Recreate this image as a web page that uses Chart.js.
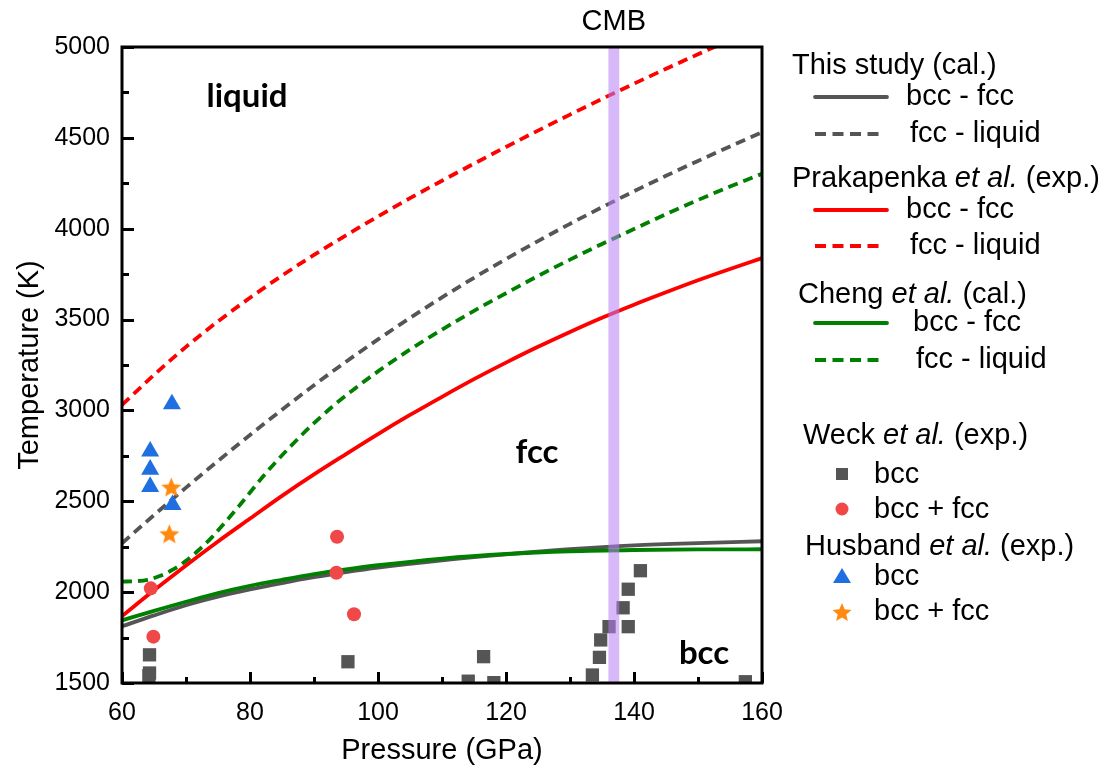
<!DOCTYPE html>
<html><head><meta charset="utf-8">
<script src="https://cdn.jsdelivr.net/npm/chart.js@4.4.0/dist/chart.umd.min.js"></script>
<style>html,body{margin:0;padding:0;background:#fff;}#wrap{width:1118px;height:774px;position:relative;}</style>
</head><body><div id="wrap"><canvas id="c" width="1118" height="774"></canvas></div>
<script>
// ---------- DATA ----------
const xTickValues = [60, 80, 100, 120, 140, 160];
const yTickValues = [1500, 2000, 2500, 3000, 3500, 4000, 4500, 5000];

// This study (cal.)
const thisBccFccP = [60, 65, 70, 75, 80, 85, 90, 95, 100, 110, 120, 130, 140, 150, 160];
const thisBccFccT = [1812, 1872, 1928, 1975, 2015, 2050, 2082, 2110, 2135, 2175, 2208, 2236, 2257, 2270, 2280];
const thisFccLiqP = [60, 65, 70, 75, 80, 85, 90, 95, 100, 105, 110, 115, 120, 125, 130, 135, 140, 145, 150, 155, 160];
const thisFccLiqT = [2269, 2424, 2575, 2722, 2865, 3004, 3139, 3268, 3391, 3509, 3622, 3730, 3833, 3932, 4027, 4118, 4206, 4291, 4373, 4453, 4531];

// Prakapenka et al. (exp.)
const prakBccFccP = [60, 65, 70, 75, 80, 85, 90, 95, 100, 105, 110, 115, 120, 125, 130, 135, 140, 145, 150, 155, 160];
const prakBccFccT = [1868, 2010, 2147, 2279, 2405, 2530, 2648, 2760, 2870, 2975, 3075, 3172, 3263, 3350, 3432, 3510, 3582, 3650, 3716, 3778, 3838];
const prakFccLiqP = [60, 65, 70, 75, 80, 85, 90, 95, 100, 105, 110, 115, 120, 125, 130, 135, 140, 145, 150, 155, 160];
const prakFccLiqT = [3030, 3195, 3350, 3490, 3620, 3742, 3856, 3964, 4068, 4168, 4264, 4358, 4450, 4540, 4628, 4714, 4798, 4880, 4960, 5038, 5115];

// Cheng et al. (cal.)
const chengBccFccP = [60, 65, 70, 75, 80, 85, 90, 95, 100, 110, 120, 130, 140, 150, 160];
const chengBccFccT = [1845, 1897, 1947, 1995, 2035, 2068, 2099, 2125, 2148, 2185, 2210, 2225, 2232, 2235, 2236];
const chengFccLiqP = [60, 62, 64, 66, 68, 70, 72, 74, 76, 78, 80, 82, 84, 86, 88, 90, 93, 96, 100, 105, 110, 115, 120, 125, 130, 135, 140, 145, 150, 155, 160];
const chengFccLiqT = [2058, 2060, 2068, 2090, 2125, 2172, 2232, 2300, 2380, 2462, 2548, 2635, 2715, 2790, 2862, 2930, 3025, 3110, 3215, 3335, 3445, 3548, 3645, 3740, 3830, 3916, 3998, 4080, 4158, 4232, 4302];

// Weck et al. (exp.)
const weckBccP = [64.3, 64.3, 64.2, 95.3, 114.1, 116.5, 118.1, 133.5, 134.6, 134.8, 136.1, 138.3, 139.1, 139.1, 141.0, 157.4];
const weckBccT = [1655, 1555, 1540, 1617, 1510, 1645, 1502, 1544, 1641, 1737, 1810, 1914, 1810, 2016, 2118, 1507];
const weckMixP = [64.5, 64.9, 93.6, 93.5, 96.25];
const weckMixT = [2021, 1755, 2305, 2107, 1878];

// Husband et al. (exp.)
const husbBccP = [67.8, 64.4, 64.4, 64.4, 67.9];
const husbBccT = [3035, 2775, 2675, 2580, 2480];
const husbMixP = [67.7, 67.4];
const husbMixT = [2577, 2320];

// Core-mantle boundary pressure range (GPa)
const cmbRange = [136.0, 137.7];

// ---------- STYLE ----------
const FONT = "'Liberation Sans', Arial, sans-serif";
const GREY = '#555555', RED = '#ff0000', GREEN = '#008000';
const MRED = '#f04848', BLUE = '#1f6fe0', ORANGE = '#ff8a10';

function pts(P, T) { return P.map((p, i) => ({ x: p, y: T[i] })); }

function starPath(g, cx, cy, r) {
  g.beginPath();
  for (let i = 0; i < 10; i++) {
    const rr = i % 2 === 0 ? r : r * 0.45;
    const a = -Math.PI / 2 + i * Math.PI / 5;
    g.lineTo(cx + rr * Math.cos(a), cy + rr * Math.sin(a));
  }
  g.closePath();
}
function makeStar(r, color) {
  const c = document.createElement('canvas');
  const s = Math.ceil(r * 2 + 2);
  c.width = s; c.height = s;
  const g = c.getContext('2d');
  g.fillStyle = color;
  starPath(g, s / 2, s / 2 + 0.8, r);
  g.fill();
  return c;
}

function lineDs(label, P, T, color, dashed) {
  return {
    label, data: pts(P, T), showLine: true, borderColor: color, backgroundColor: color,
    borderWidth: 3.8, borderDash: dashed ? [10, 6] : [], pointRadius: 0, pointHoverRadius: 0,
    cubicInterpolationMode: 'monotone', fill: false, clip: 0
  };
}
function markDs(label, P, T, color, style, radius) {
  return {
    label, data: pts(P, T), showLine: false, backgroundColor: color, borderColor: color,
    borderWidth: 0, pointStyle: style, pointRadius: radius, pointHoverRadius: radius, clip: 0
  };
}

const datasets = [
  markDs('Husband bcc + fcc', husbMixP, husbMixT, ORANGE, makeStar(10.5, ORANGE), 10),
  markDs('Husband bcc', husbBccP, husbBccT, BLUE, 'triangle', 10.4),
  markDs('Weck bcc + fcc', weckMixP, weckMixT, MRED, 'circle', 7),
  markDs('Weck bcc', weckBccP, weckBccT, GREY, 'rect', 9.4),
  lineDs('Cheng bcc-fcc', chengBccFccP, chengBccFccT, GREEN, false),
  lineDs('This bcc-fcc', thisBccFccP, thisBccFccT, GREY, false),
  lineDs('Prakapenka bcc-fcc', prakBccFccP, prakBccFccT, RED, false),
  lineDs('Cheng fcc-liquid', chengFccLiqP, chengFccLiqT, GREEN, true),
  lineDs('This fcc-liquid', thisFccLiqP, thisFccLiqT, GREY, true),
  lineDs('Prakapenka fcc-liquid', prakFccLiqP, prakFccLiqT, RED, true)
];

function rich(ctx, parts, x, y, size) {
  let cx = x;
  for (const p of parts) {
    ctx.font = (p.i ? 'italic ' : '') + size + 'px ' + FONT;
    ctx.fillText(p.t, cx, y);
    cx += ctx.measureText(p.t).width;
  }
}

const decor = {
  id: 'decor',
  afterDatasetsDraw(chart) {
    const { ctx, chartArea: a, scales: { x, y } } = chart;
    ctx.save();
    // CMB band
    const x0 = x.getPixelForValue(cmbRange[0]), x1 = x.getPixelForValue(cmbRange[1]);
    ctx.fillStyle = 'rgba(182,128,246,0.55)';
    ctx.fillRect(x0, a.top, x1 - x0, a.bottom - a.top);
    // inward ticks
    ctx.strokeStyle = '#000';
    ctx.lineWidth = 3;
    ctx.beginPath();
    for (let v = x.min; v <= x.max; v += 10) {
      const px = Math.round(x.getPixelForValue(v)) + 0.5;
      const len = (v % 20 === 0) ? 11 : 6;
      ctx.moveTo(px, a.bottom); ctx.lineTo(px, a.bottom - len);
    }
    for (let v = y.min; v <= y.max; v += 250) {
      const py = Math.round(y.getPixelForValue(v)) + 0.5;
      const len = (v % 500 === 0) ? 12 : 7;
      ctx.moveTo(a.left, py); ctx.lineTo(a.left + len, py);
    }
    ctx.stroke();
    // frame
    ctx.lineWidth = 3;
    ctx.strokeRect(a.left, a.top, a.right - a.left, a.bottom - a.top);
    ctx.restore();
  },
  afterDraw(chart) {
    const { ctx, scales: { x, y } } = chart;
    ctx.save();
    ctx.fillStyle = '#000';
    ctx.textBaseline = 'middle';
    // CMB label
    ctx.textAlign = 'center';
    ctx.font = '29px ' + FONT;
    ctx.fillText('CMB', x.getPixelForValue((cmbRange[0] + cmbRange[1]) / 2), 22);
    // region labels
    ctx.font = "bold 33px Lato, 'Liberation Sans', sans-serif";
    ctx.fillText('liquid', 247, 96);
    ctx.fillText('fcc', 537, 452);
    ctx.fillText('bcc', 704, 653);
    // legend
    ctx.textAlign = 'left';
    const S = 29;
    rich(ctx, [{ t: 'This study (cal.)' }], 792, 66, S);
    rich(ctx, [{ t: 'Prakapenka ' }, { t: 'et al.', i: true }, { t: ' (exp.)' }], 792, 179, S);
    rich(ctx, [{ t: 'Cheng ' }, { t: 'et al.', i: true }, { t: ' (cal.)' }], 798, 295, S);
    rich(ctx, [{ t: 'Weck ' }, { t: 'et al.', i: true }, { t: ' (exp.)' }], 803, 436, S);
    rich(ctx, [{ t: 'Husband ' }, { t: 'et al.', i: true }, { t: ' (exp.)' }], 805, 547, S);
    const samples = [
      [97, GREY, false, 'bcc - fcc', 906], [134, GREY, true, 'fcc - liquid', 910],
      [210, RED, false, 'bcc - fcc', 906], [246, RED, true, 'fcc - liquid', 910],
      [323, GREEN, false, 'bcc - fcc', 913], [360, GREEN, true, 'fcc - liquid', 916]
    ];
    for (const [yy, col, dashed, txt, tx] of samples) {
      ctx.save();
      ctx.strokeStyle = col; ctx.lineWidth = 3.8;
      ctx.setLineDash(dashed ? [11, 6.5] : []);
      ctx.lineCap = dashed ? 'butt' : 'round';
      ctx.beginPath(); ctx.moveTo(815, yy); ctx.lineTo(dashed ? 881 : 887, yy); ctx.stroke();
      ctx.restore();
      ctx.fillStyle = '#000';
      rich(ctx, [{ t: txt }], tx, yy, S);
    }
    // marker samples
    ctx.fillStyle = GREY; ctx.fillRect(836, 468, 12, 12);
    ctx.fillStyle = MRED; ctx.beginPath(); ctx.arc(842, 509, 6.5, 0, Math.PI * 2); ctx.fill();
    ctx.fillStyle = BLUE; ctx.beginPath(); ctx.moveTo(842, 568); ctx.lineTo(851, 583); ctx.lineTo(833, 583); ctx.closePath(); ctx.fill();
    ctx.fillStyle = ORANGE; starPath(ctx, 842, 613, 10); ctx.fill();
    ctx.fillStyle = '#000';
    rich(ctx, [{ t: 'bcc' }], 874, 475, S);
    rich(ctx, [{ t: 'bcc + fcc' }], 874, 510, S);
    rich(ctx, [{ t: 'bcc' }], 874, 577, S);
    rich(ctx, [{ t: 'bcc + fcc' }], 874, 612, S);
    ctx.restore();
  }
};

new Chart(document.getElementById('c'), {
  type: 'scatter',
  data: { datasets },
  options: {
    responsive: false, animation: false, devicePixelRatio: 1,
    layout: { padding: { top: 47, right: 356, left: 0, bottom: 0 } },
    plugins: { legend: { display: false }, tooltip: { enabled: false } },
    events: [],
    scales: {
      x: {
        type: 'linear', min: 60, max: 160,
        afterBuildTicks(s) { s.ticks = xTickValues.map(v => ({ value: v })); },
        ticks: { font: { family: FONT, size: 25 }, color: '#000', padding: 15, maxRotation: 0, autoSkip: false, callback: v => String(v) },
        grid: { display: false, drawTicks: false }, border: { display: false },
        title: { display: true, text: 'Pressure (GPa)', color: '#000', font: { family: FONT, size: 29 }, padding: { bottom: 6 } },
        afterFit(s) { s.height = 91; }
      },
      y: {
        type: 'linear', min: 1500, max: 5000,
        afterBuildTicks(s) { s.ticks = yTickValues.map(v => ({ value: v })); },
        ticks: { font: { family: FONT, size: 25 }, color: '#000', padding: 12, autoSkip: false, callback: v => String(v) },
        grid: { display: false, drawTicks: false }, border: { display: false },
        title: { display: true, text: 'Temperature (K)', color: '#000', font: { family: FONT, size: 29 }, padding: { top: 13 } },
        afterFit(s) { s.width = 122; }
      }
    }
  },
  plugins: [decor]
});
</script>
</body></html>
